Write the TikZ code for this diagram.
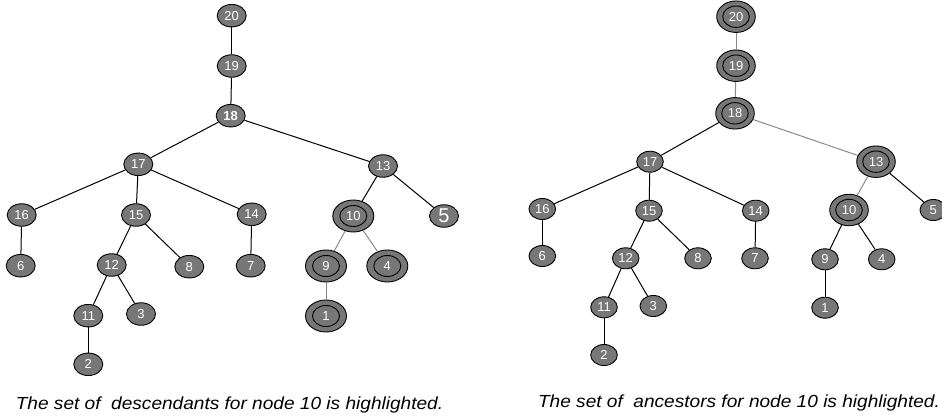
\documentclass[tikz,border=0pt]{standalone}
\usepackage{fontspec}
\newfontfamily\hv{Liberation Sans}
\usetikzlibrary{shapes.geometric}
\definecolor{nodegray}{HTML}{777777}
\definecolor{edgegray}{HTML}{8A8A8A}
\tikzset{
  lnode/.style={ellipse, draw=black, line width=0.9pt, fill=nodegray, inner sep=0pt,
    minimum width=29pt, minimum height=22.5pt, text=white, font=\hv\fontsize{13}{13}\selectfont},
  rnode/.style={lnode, minimum width=26.6pt, minimum height=21pt},
  ldbl/.style={lnode, minimum width=41pt, minimum height=32pt,
    path picture={\draw[line width=0.9pt] (path picture bounding box.center) ellipse [x radius=13.5pt, y radius=10.5pt];}},
  rdbl/.style={lnode, minimum width=38.6pt, minimum height=31.5pt,
    path picture={\draw[line width=0.9pt] (path picture bounding box.center) ellipse [x radius=13.3pt, y radius=10.7pt];}},
  blk/.style={draw=black, line width=1pt},
  gry/.style={draw=edgegray, line width=1pt},
  captext/.style={anchor=base, inner sep=0pt, font=\hv\itshape\fontsize{17.5}{18}\selectfont}
}
\begin{document}
\begin{tikzpicture}[x=1pt, y=-1pt]
\useasboundingbox (0,0) rectangle (942,417);
% ---------- left tree ----------
\node[lnode] (L20) at (231.7,15.7) {20};
\node[lnode] (L19) at (231.7,66) {19};
\node[lnode] (L18) at (230.7,115.7) {\bfseries 18};
\node[lnode] (L17) at (138.3,164.3) {17};
\node[lnode] (L13) at (383,166) {13};
\node[lnode] (L16) at (21.7,215) {16};
\node[lnode] (L15) at (136,215) {15};
\node[lnode] (L14) at (251.7,214.3) {14};
\node[ldbl] (L10) at (353.3,216) {10};
\node[lnode, font=\hv\fontsize{20}{20}\selectfont] (L5) at (444,216) {5};
\node[lnode] (L6) at (20.7,265.7) {6};
\node[lnode] (L12) at (111.7,265) {12};
\node[lnode] (L8) at (189.3,266.7) {8};
\node[lnode] (L7) at (250.7,265.7) {7};
\node[ldbl] (L9) at (326,266) {9};
\node[ldbl] (L4) at (387.3,266) {4};
\node[lnode] (L11) at (88.3,315.7) {11};
\node[lnode] (L3) at (141,314) {3};
\node[ldbl] (L1) at (326,316) {1};
\node[lnode] (L2) at (88.3,364.3) {2};
\draw[blk] (L20) -- (L19);
\draw[blk] (L19) -- (L18);
\draw[blk] (L18) -- (L17);
\draw[blk] (L18) -- (L13);
\draw[blk] (L17) -- (L16);
\draw[blk] (L17) -- (L15);
\draw[blk] (L17) -- (L14);
\draw[blk] (L13) -- (L10);
\draw[blk] (L13) -- (L5);
\draw[blk] (L16) -- (L6);
\draw[blk] (L15) -- (L12);
\draw[blk] (L15) -- (L8);
\draw[blk] (L14) -- (L7);
\draw[blk] (L12) -- (L11);
\draw[blk] (L12) -- (L3);
\draw[blk] (L11) -- (L2);
\draw[gry] (L10) -- (L9);
\draw[gry] (L10) -- (L4);
\draw[gry] (L9) -- (L1);
\node[captext] (LC) at (229.5,409) {\scalebox{1.09}[1]{The set of\ \ descendants for node 10 is highlighted.}};
% ---------- right tree ----------
\node[rdbl] (R20) at (736,16.7) {20};
\node[rdbl] (R19) at (736,65.7) {19};
\node[rdbl] (R18) at (735,113.3) {18};
\node[rnode] (R17) at (650,161.7) {17};
\node[rdbl] (R13) at (876,161.7) {13};
\node[rnode] (R16) at (542.3,209) {16};
\node[rnode] (R15) at (649,210.7) {15};
\node[rnode] (R14) at (755.7,210.7) {14};
\node[rdbl] (R10) at (849,210) {10};
\node[rnode] (R5) at (933.3,210) {5};
\node[rnode] (R6) at (542.3,256) {6};
\node[rnode] (R12) at (625.7,258.3) {12};
\node[rnode] (R8) at (698,258.3) {8};
\node[rnode] (R7) at (755,258.3) {7};
\node[rnode] (R9) at (825,259.3) {9};
\node[rnode] (R4) at (881.7,259.3) {4};
\node[rnode] (R11) at (604,307.3) {11};
\node[rnode] (R3) at (653.3,306) {3};
\node[rnode] (R1) at (825,307.7) {1};
\node[rnode] (R2) at (604,355) {2};
\draw[gry] (R20) -- (R19);
\draw[gry] (R19) -- (R18);
\draw[gry] (R18) -- (R13);
\draw[gry] (R13) -- (R10);
\draw[blk] (R18) -- (R17);
\draw[blk] (R17) -- (R16);
\draw[blk] (R17) -- (R15);
\draw[blk] (R17) -- (R14);
\draw[blk] (R13) -- (R5);
\draw[blk] (R16) -- (R6);
\draw[blk] (R15) -- (R12);
\draw[blk] (R15) -- (R8);
\draw[blk] (R14) -- (R7);
\draw[blk] (R12) -- (R11);
\draw[blk] (R12) -- (R3);
\draw[blk] (R11) -- (R2);
\draw[blk] (R10) -- (R9);
\draw[blk] (R10) -- (R4);
\draw[blk] (R9) -- (R1);
\node[captext] (RC) at (739,407) {\scalebox{1.09}[1]{The set of\ \ ancestors for node 10 is highlighted.}};
\end{tikzpicture}
\end{document}
